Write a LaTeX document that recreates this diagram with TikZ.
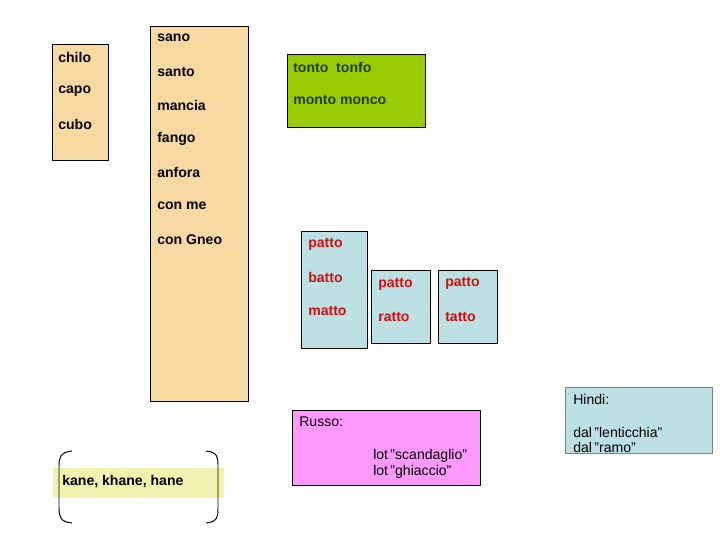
\documentclass[tikz,border=0pt]{standalone}
\usepackage{fontspec}
\setmainfont{Liberation Sans}
\definecolor{wheatbox}{HTML}{F8D9A2}
\definecolor{limebox}{HTML}{99CC00}
\definecolor{tealbox}{HTML}{BCE0E4}
\definecolor{pinkbox}{HTML}{FF99FF}
\definecolor{creambox}{HTML}{F2F2B0}
\definecolor{darkgreen}{HTML}{1F3A1F}
\definecolor{wordred}{HTML}{CC1111}
\newcommand{\qq}{\symbol{34}}
\begin{document}
\begin{tikzpicture}[x=0.025cm, y=-0.025cm,
    word/.style={anchor=west, inner sep=0pt, font=\bfseries\fontsize{10}{12}\selectfont},
    plain/.style={anchor=west, inner sep=0pt, font=\fontsize{10}{12}\selectfont},
    box/.style={draw=black, line width=0.6pt}]
\useasboundingbox (0,0) rectangle (720,540);
% boxes
\filldraw[box, fill=wheatbox] (52,44) rectangle (108,160);
\filldraw[box, fill=wheatbox] (150,26) rectangle (248,401);
\filldraw[box, fill=limebox] (287,54) rectangle (425,127);
\filldraw[box, fill=tealbox] (301,231) rectangle (367,348);
\filldraw[box, fill=tealbox] (371,270) rectangle (430,343);
\filldraw[box, fill=tealbox] (438,270) rectangle (497,343);
\filldraw[box, fill=pinkbox] (292,410) rectangle (480,485);
\filldraw[draw=gray, line width=0.6pt, fill=tealbox] (565,387) rectangle (712,453);
\fill[creambox] (53,468) rectangle (224,498);
% first column
\node[word] (chilo) at (58,57) {chilo};
\node[word] (capo) at (58,91) {capo};
\node[word] (cubo) at (58,124) {cubo};
% second column
\node[word] (sano) at (157,38) {sano};
\node[word] (santo) at (157,72) {santo};
\node[word] (mancia) at (157,105) {mancia};
\node[word] (fango) at (157,139) {fango};
\node[word] (anfora) at (157,172) {anfora};
\node[word] (conme) at (157,206) {con me};
\node[word] (congneo) at (157,240) {con Gneo};
% green box
\node[word, darkgreen] (tonto) at (293,67) {tonto\ \ tonfo};
\node[word, darkgreen] (monto) at (293,100) {monto\ monco};
% blue boxes
\node[word, wordred] (patto1) at (308,244) {patto};
\node[word, wordred] (batto) at (308,277) {batto};
\node[word, wordred] (matto) at (308,311) {matto};
\node[word, wordred] (patto2) at (378,284) {patto};
\node[word, wordred] (ratto) at (378,317) {ratto};
\node[word, wordred] (patto3) at (445,283) {patto};
\node[word, wordred] (tatto) at (445,317) {tatto};
% Russo and Hindi
\node[plain] (russo) at (299,422) {Russo:};
\node[plain] (lot1) at (373,456) {lot\,\qq scandaglio\qq};
\node[plain] (lot2) at (373,472) {lot\,\qq ghiaccio\qq};
\node[plain] (hindi) at (573,399) {Hindi:};
\node[plain] (dal1) at (573,432) {dal\,\qq lenticchia\qq};
\node[plain] (dal2) at (573,447) {dal\,\qq ramo\qq};
\node[word] (kane) at (62,481) {kane, khane, hane};
% brackets
\draw[line width=0.7pt] (72,451) .. controls (60,452) and (59,458) .. (59,466)
    -- (59,508) .. controls (59,516) and (60,522) .. (72,523);
\draw[line width=0.7pt] (206,451) .. controls (218,452) and (218,458) .. (218,466)
    -- (218,508) .. controls (218,516) and (218,522) .. (206,523);
\end{tikzpicture}
\end{document}
